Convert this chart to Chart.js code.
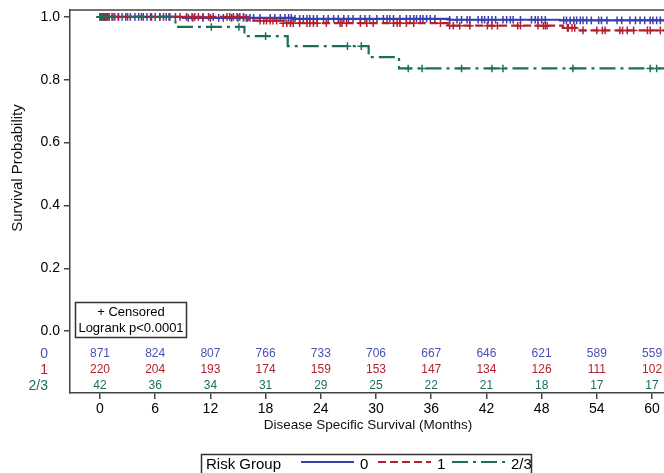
<!DOCTYPE html>
<html lang="en">
<head>
<meta charset="UTF-8">
<title>Disease Specific Survival</title>
<script src="https://cdn.jsdelivr.net/npm/chart.js"></script>
<style>
  html, body { margin: 0; padding: 0; background: #fff; }
</style>
</head>
<body>
<canvas id="myChart" width="664" height="473"></canvas>
<script>
// ---- data ----
const groups = ['0', '1', '2/3'];
const months = [0, 6, 12, 18, 24, 30, 36, 42, 48, 54, 60];
const yTicks = [0, 0.2, 0.4, 0.6, 0.8, 1.0];

// step curves: time of each drop and survival after it
const stepTime0 = [0, 9, 21, 38, 50];
const stepSurv0 = [1, 0.997, 0.994, 0.991, 0.989];
const stepTime1 = [0, 16.1, 19.9, 37.8, 50.3, 52];
const stepSurv1 = [1, 0.988, 0.980, 0.972, 0.965, 0.957];
const stepTime2 = [0, 8.2, 15.7, 20.4, 29.2, 32.5];
const stepSurv2 = [1, 0.968, 0.939, 0.907, 0.872, 0.836];
const endTime = 61.3;

// censored times
const censor0 = [0, 0.2, 0.4, 0.6, 0.8, 1, 1.3, 1.6, 2, 2.4, 2.8, 3.3, 3.8, 4.2, 4.7, 5.1, 5.6, 6,
  6.5, 6.9, 7.2, 7.6, 8.2, 9.6, 10.1, 11.2, 12, 12.9, 13.4, 14.3, 15, 15.6, 15.9, 16.3, 16.7, 17.4,
  18.5, 19, 19.6, 20.1, 20.5, 20.8, 21.2, 21.7, 22.1, 22.5, 22.8, 23.2, 23.6, 24.3, 24.8, 25.4, 25.9,
  26.5, 27, 27.5, 28.3, 28.8, 29.3, 30.1, 30.8, 31.2, 31.5, 31.9, 32.6, 33.3, 33.7, 34.1, 34.4,
  34.8, 35.1, 35.5, 35.9, 36.4, 38, 38.8, 39.3, 39.9, 40.2, 41.1, 41.5, 41.8, 42.2, 42.6, 43, 43.8,
  44.2, 44.6, 44.9, 45.7, 46.9, 47.3, 47.6, 48, 48.4, 50.4, 50.7, 51.1, 51.5, 51.8, 52.2, 52.5, 52.9,
  53.4, 54.2, 54.5, 55.1, 56.2, 56.7, 57.6, 58.2, 58.7, 59.2, 59.8, 60.1, 60.5, 60.9];
const censor1 = [0.1, 0.3, 0.5, 0.7, 1, 1.4, 2, 3, 4.5, 5.5, 6.5, 7.5, 8.7, 9.4, 10, 10.3, 10.7, 11.2,
  11.8, 12.3, 13.8, 14.1, 14.5, 14.9, 15.2, 15.6, 17.4, 17.8, 18.1, 18.5, 18.8, 19.2, 19.9, 20.3, 20.7,
  21, 21.7, 22.5, 22.8, 23.2, 23.6, 24.6, 26.1, 26.3, 26.8, 28.3, 29, 29.7, 31.9, 32.3, 32.6, 33.3,
  34.1, 37, 38, 38.4, 39.1, 40.2, 42.1, 42.6, 43.2, 45.4, 45.7, 47.6, 48.2, 48.4, 48.6, 50.8, 50.9,
  51.3, 51.6, 52.5, 54, 54.6, 54.9, 56.5, 56.8, 57.3, 58, 59.5, 59.8, 60.9];
const censor2 = [0, 0.3, 0.6, 12.1, 15.1, 18.0, 26.9, 28.4, 33.5, 35, 39.3, 42.6, 43.8, 51.4, 59.8, 60.5];

// numbers at risk
const atRisk0 = [871, 824, 807, 766, 733, 706, 667, 646, 621, 589, 559];
const atRisk1 = [220, 204, 193, 174, 159, 153, 147, 134, 126, 111, 102];
const atRisk2 = [42, 36, 34, 31, 29, 25, 22, 21, 18, 17, 17];

const colors = ['#3a3fae', '#b3202f', '#1c6e5e'];
const textColors = ['#4b50b4', '#b3202f', '#1c6e5e'];
const dashes = [[], [8, 4], [16, 5, 3, 5]];

function curve(times, surv) {
  let pts = times.map((t, i) => ({x: t, y: surv[i]}));
  pts.push({x: endTime, y: surv[surv.length - 1]});
  return pts;
}
function levelAt(times, surv, t) {
  let s = surv[0];
  for (let i = 0; i < times.length; i++) {
    if (times[i] <= t) s = surv[i];
  }
  return s;
}
function marks(cens, times, surv) {
  return cens.map(t => ({x: t, y: levelAt(times, surv, t)}));
}

const stepT = [stepTime0, stepTime1, stepTime2];
const stepS = [stepSurv0, stepSurv1, stepSurv2];
const cens = [censor0, censor1, censor2];
const atRisk = [atRisk0, atRisk1, atRisk2];

let datasets = [];
// draw blue on top, then red, then green
const drawOrder = [2, 1, 0];
for (let g = 0; g < 3; g++) {
  datasets.push({
    type: 'line',
    label: groups[g],
    data: curve(stepT[g], stepS[g]),
    stepped: 'before',
    borderColor: colors[g],
    borderWidth: 2.2,
    borderDash: dashes[g],
    pointRadius: 0,
    fill: false,
    order: drawOrder[g] * 2 + 1
  });
  datasets.push({
    type: 'scatter',
    label: groups[g] + ' censored',
    data: marks(cens[g], stepT[g], stepS[g]),
    pointStyle: 'cross',
    pointRadius: 3.8,
    pointBorderWidth: 1.5,
    pointBorderColor: colors[g],
    pointBackgroundColor: colors[g],
    order: drawOrder[g] * 2
  });
}

const extras = {
  id: 'extras',
  afterDraw(chart) {
    const ctx = chart.ctx;
    const area = chart.chartArea;
    const xs = chart.scales.x;
    ctx.save();
    // top frame line
    ctx.strokeStyle = '#444';
    ctx.lineWidth = 1.5;
    ctx.beginPath();
    ctx.moveTo(area.left, area.top);
    ctx.lineTo(area.right, area.top);
    ctx.stroke();

    // numbers at risk
    const rowY = [354, 370, 386];
    ctx.textBaseline = 'middle';
    for (let g = 0; g < 3; g++) {
      ctx.fillStyle = textColors[g];
      ctx.font = '12px "Liberation Sans", Arial, sans-serif';
      ctx.textAlign = 'center';
      atRisk[g].forEach((n, i) => {
        ctx.fillText(String(n), xs.getPixelForValue(months[i]), rowY[g]);
      });
      ctx.font = '14px "Liberation Sans", Arial, sans-serif';
      ctx.textAlign = 'right';
      ctx.fillText(groups[g], 48, rowY[g]);
    }

    // censored / logrank box
    ctx.strokeStyle = '#333';
    ctx.lineWidth = 1.5;
    ctx.strokeRect(75.5, 302.5, 111, 35);
    ctx.fillStyle = '#000';
    ctx.font = '13px "Liberation Sans", Arial, sans-serif';
    ctx.textAlign = 'center';
    ctx.fillText('+ Censored', 131, 312);
    ctx.fillText('Logrank p<0.0001', 131, 328);

    // axis titles
    ctx.font = '13.5px "Liberation Sans", Arial, sans-serif';
    ctx.fillStyle = '#111';
    ctx.fillText('Disease Specific Survival (Months)', 368, 425);
    ctx.save();
    ctx.translate(18, 168);
    ctx.rotate(-Math.PI / 2);
    ctx.font = '15px "Liberation Sans", Arial, sans-serif';
    ctx.fillText('Survival Probability', 0, 0);
    ctx.restore();

    // legend
    ctx.strokeStyle = '#333';
    ctx.lineWidth = 1.5;
    ctx.strokeRect(201.5, 454.5, 330, 30);
    ctx.fillStyle = '#000';
    ctx.font = '15px "Liberation Sans", Arial, sans-serif';
    ctx.textAlign = 'left';
    ctx.fillText('Risk Group', 206, 465);
    const legX = [301, 378, 452];
    for (let g = 0; g < 3; g++) {
      ctx.strokeStyle = colors[g];
      ctx.lineWidth = 2;
      ctx.setLineDash(dashes[g]);
      ctx.beginPath();
      ctx.moveTo(legX[g], 462);
      ctx.lineTo(legX[g] + 53, 462);
      ctx.stroke();
      ctx.setLineDash([]);
      ctx.fillStyle = '#000';
      ctx.fillText(groups[g], legX[g] + 59, 465);
    }
    ctx.restore();
  }
};

const ctx = document.getElementById('myChart');
let myChart = new Chart(ctx, {
  data: { datasets: datasets },
  options: {
    responsive: false,
    animation: false,
    devicePixelRatio: 1,
    layout: { autoPadding: false, padding: { top: 10, right: 0, bottom: 0, left: 0 } },
    plugins: { legend: { display: false }, tooltip: { enabled: false } },
    scales: {
      x: {
        type: 'linear',
        min: -3.26,
        max: endTime,
        afterBuildTicks: s => { s.ticks = months.map(v => ({value: v})); },
        afterFit: s => { s.height = 80; s.paddingLeft = 0; s.paddingRight = 0; },
        ticks: { color: '#000', font: { size: 14, family: '"Liberation Sans", Arial, sans-serif' }, padding: 2, maxRotation: 0 },
        grid: { drawOnChartArea: false, tickLength: 6, color: '#444', lineWidth: 1.5 },
        border: { color: '#444', width: 1.5 }
      },
      y: {
        type: 'linear',
        min: -0.197,
        max: 1.022,
        afterBuildTicks: s => { s.ticks = yTicks.map(v => ({value: v})); },
        afterFit: s => { s.width = 70; s.paddingTop = 0; s.paddingBottom = 0; },
        ticks: {
          color: '#000',
          font: { size: 14, family: '"Liberation Sans", Arial, sans-serif' },
          padding: 4,
          callback: v => v.toFixed(1)
        },
        grid: { drawOnChartArea: false, tickLength: 6, color: '#444', lineWidth: 1.5 },
        border: { color: '#444', width: 1.5 }
      }
    }
  },
  plugins: [extras]
});
</script>
</body>
</html>
